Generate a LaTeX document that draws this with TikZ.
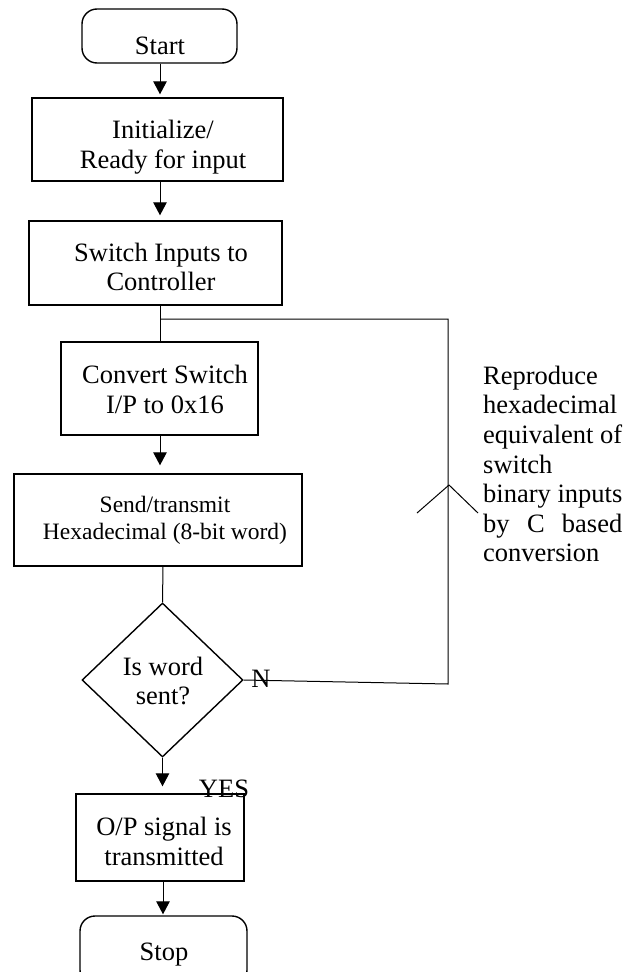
\documentclass[tikz,border=0pt]{standalone}
\usepackage{fontspec}
\setmainfont{Liberation Serif}
\usetikzlibrary{shapes.geometric,arrows.meta}
\newlength\binw
\begin{document}
\begin{tikzpicture}[x=1pt,y=-1pt,
  box/.style={draw, line width=1.4pt, inner sep=0pt, rectangle},
  term/.style={box, rounded corners=15pt},
  txt/.style={inner sep=0pt, align=center, font=\fontsize{26.5}{29.5}\selectfont},
  smalltxt/.style={inner sep=0pt, align=center, font=\fontsize{23.5}{27}\selectfont},
  link/.style={line width=1pt},
  arr/.style={link, -{Triangle[length=13pt,width=13.5pt]}},
]
\useasboundingbox (0,0) rectangle (642,972);
\clip (0,0) rectangle (642,972);
\fill[white] (0,0) rectangle (642,972);

% shapes
\node[term, minimum width=155pt, minimum height=54pt] (start) at (159.5,36) {};
\node[box, minimum width=251pt, minimum height=83pt] (init) at (157.5,139.5) {};
\node[box, minimum width=253pt, minimum height=84pt] (sw) at (155.5,263) {};
\node[box, minimum width=197pt, minimum height=93pt] (conv) at (159.5,388.5) {};
\node[box, minimum width=288pt, minimum height=92pt] (send) at (158,520) {};
\node[diamond, draw, line width=1.4pt, inner sep=0pt, minimum width=161pt, minimum height=154pt] (dia) at (162.5,680) {};
\node[box, minimum width=168pt, minimum height=87pt] (op) at (160,837.5) {};
\node[term, minimum width=167pt, minimum height=69pt] (stop) at (163.5,950.5) {};

% texts
\node[txt] (startT) at (160,45.5) {Start};
\node[txt] (initT) at (163,147) {Initialize/\\Ready for input};
\node[txt] (swT) at (161,267) {Switch Inputs to\\Controller};
\node[txt] (convT) at (165,389.5) {Convert Switch\\I/P to 0x16};
\node[smalltxt] (sendT) at (165,520.5) {Send/transmit\\Hexadecimal (8-bit word)};
\node[txt] (diaT) at (163,681) {Is word\\sent?};
\node[txt] (opT) at (164,841.5) {O/P signal is\\transmitted};
\node[txt] (stopT) at (164,955) {Stop};
\node[txt] (nT) at (261,678.5) {N};
\node[txt] (yesT) at (224,789) {YES};
\node[inner sep=0pt, align=left, anchor=west, font=\fontsize{26.5}{29.6}\selectfont] (note) at (483,464)
  {Reproduce\\hexadecimal\\equivalent of\\switch\\binary inputs\\\settowidth{\binw}{binary inputs}\makebox[\binw][s]{by C based}\\conversion};

% spine coordinates
\coordinate (axis) at (160,0);
\coordinate (axisB) at (163,0);
\coordinate (jn) at (160,319);
\coordinate (tr) at (448,319);
\coordinate (nr) at (448,684);
\coordinate (chL) at (417,513);
\coordinate (chA) at (449,485);
\coordinate (chR) at (478,513);

% connectors
\draw[arr, shorten >=3pt] (axis |- start.south) -- (axis |- init.north);
\draw[arr, shorten >=5pt] (axis |- init.south) -- (axis |- sw.north);
\draw[link] (axis |- sw.south) -- (axis |- conv.north);
\draw[arr, shorten >=8pt] (axis |- conv.south) -- (axis |- send.north);
\draw[link] (axisB |- send.south) -- (dia.north);
\draw[arr, shorten >=7pt] (dia.south) -- (dia.south |- op.north);
\draw[arr, shorten >=1pt] (axisB |- op.south) -- (axisB |- stop.north);
\draw[link] (dia.east) -- (nr) -- (tr) -- (jn);
\draw[link] (chL) -- (chA) -- (chR);
\end{tikzpicture}
\end{document}
